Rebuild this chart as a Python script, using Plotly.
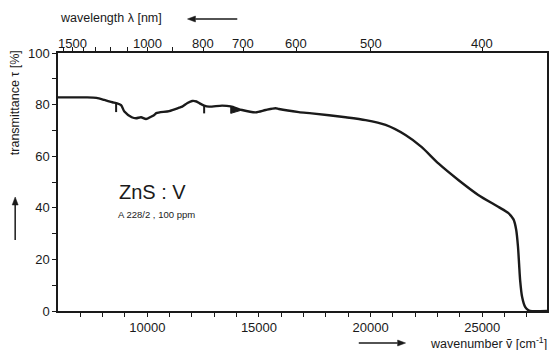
import math
import plotly.graph_objects as go

# ---- data ----
wavenumber = [6000, 6071, 7300, 7723, 8080, 8437, 8603, 8826, 8973, 9304, 9496, 9719, 9942,
              10165, 10313, 10402, 10982, 11429, 11562, 11800, 12009, 12200, 12321, 12545, 12768,
              13348, 13737, 14241, 14853, 15299, 15746, 15893, 16786, 17366, 18884, 19777, 20670,
              21562, 22277, 23036, 23929, 24821, 25714, 26161, 26400, 26520, 26600, 26652, 26696,
              26786, 26920, 27050, 27143, 27900]
transmittance = [82.8, 82.8, 82.8, 82.6, 81.8, 80.9, 80.6, 79.8, 77.3, 75.1, 74.7, 75.1, 74.4,
                 75.3, 76.0, 76.7, 77.5, 78.8, 79.2, 80.6, 81.4, 81.2, 80.6, 79.6, 79.2,
                 79.6, 79.3, 77.9, 77.0, 77.9, 78.6, 78.3, 77.1, 76.6, 75.1, 74.0, 72.1,
                 68.2, 63.6, 57.2, 50.8, 45.0, 40.4, 38.0, 35.5, 31.5, 25.0, 18.0, 12.0,
                 5.4, 1.6, 0.4, 0.0, 0.0]
# calibration marks (vertical ticks) on the curve
spike_x = [8603, 12545]
spike_top = [80.6, 79.6]
spike_bottom = [77.1, 76.6]
# small wedge marker on the curve
wedge_x = [13737, 13737, 14241]
wedge_y = [79.3, 76.6, 77.9]

x_range = [6000, 27900]
y_range = [0, 100]
bottom_major = [10000, 15000, 20000, 25000]
bottom_labels = ["10000", "15000", "20000", "25000"]
bottom_minor = [v for v in range(7000, 28000, 1000) if v not in bottom_major]
y_major = [0, 20, 40, 60, 80, 100]
y_labels = ["0", "20", "40", "60", "80", "100"]
y_minor = [10, 30, 50, 70, 90]
wavelength_ticks = [1600, 1500, 1400, 1300, 1200, 1100, 1000, 900, 800, 700, 600, 500, 400]
wavelength_labelled = [1500, 1000, 800, 700, 600, 500, 400]

FONT = "Liberation Sans, Arial, sans-serif"
INK = "#1a1a1a"
W, H = 552, 350
ML, MR, MT, MB = 58, 3, 53, 39


def px(xp):
    return (xp - ML) / (W - ML - MR)


def py(yp):
    return (H - MB - yp) / (H - MT - MB)


fig = go.Figure()
fig.add_trace(go.Scatter(x=wavenumber, y=transmittance, mode="lines",
                         line=dict(color=INK, width=2.4, shape="spline", smoothing=0.7),
                         showlegend=False, hoverinfo="skip"))
sx, sy = [], []
for xv, t, b in zip(spike_x, spike_top, spike_bottom):
    sx += [xv, xv, None]
    sy += [t, b, None]
fig.add_trace(go.Scatter(x=sx, y=sy, mode="lines", line=dict(color=INK, width=2),
                         showlegend=False, hoverinfo="skip"))
fig.add_trace(go.Scatter(x=wedge_x, y=wedge_y, mode="lines", fill="toself", fillcolor=INK,
                         line=dict(color=INK, width=1), showlegend=False, hoverinfo="skip"))
# carrier trace for the top wavelength axis
fig.add_trace(go.Scatter(x=x_range, y=[None, None], xaxis="x2", mode="lines",
                         showlegend=False, hoverinfo="skip"))

top_vals = [1e7 / lam for lam in wavelength_ticks]

axis_common = dict(showline=True, linecolor=INK, linewidth=1.5, ticks="outside", ticklen=4,
                   tickwidth=1.2, tickcolor=INK, showgrid=False, zeroline=False,
                   tickfont=dict(family=FONT, size=13, color=INK))
minor_common = dict(ticks="outside", ticklen=4, tickwidth=1.2, tickcolor=INK, showgrid=False)

fig.update_layout(
    width=W, height=H,
    margin=dict(l=ML, r=MR, t=MT, b=MB),
    paper_bgcolor="white", plot_bgcolor="white",
    xaxis=dict(range=x_range, tickmode="array", tickvals=bottom_major, ticktext=bottom_labels,
               minor=dict(tickmode="array", tickvals=bottom_minor, **minor_common),
               **axis_common),
    xaxis2=dict(range=x_range, overlaying="x", side="top", tickmode="array",
                tickvals=top_vals, showticklabels=False, **axis_common),
    yaxis=dict(range=y_range, tickmode="array", tickvals=y_major, ticktext=y_labels,
               minor=dict(tickmode="array", tickvals=y_minor, **minor_common),
               mirror=True, **axis_common),
)

# top wavelength labels, placed at their wavenumber positions
for lam in wavelength_labelled:
    fig.add_annotation(xref="x", yref="paper", x=1e7 / lam, y=py(44), xanchor="center",
                       yanchor="middle", text=str(lam), showarrow=False,
                       font=dict(family=FONT, size=13, color=INK))

ann_font = dict(family=FONT, size=12.5, color=INK)
# axis titles
fig.add_annotation(xref="paper", yref="paper", x=0.0, y=py(18), xanchor="left", yanchor="middle",
                   text="wavelength λ [nm]", showarrow=False, font=ann_font)
fig.add_annotation(xref="paper", yref="paper", x=px(551), y=py(343), xanchor="right", yanchor="middle",
                   text="wavenumber ṽ [cm<sup>-1</sup>]", showarrow=False, font=ann_font)
fig.add_annotation(xref="paper", yref="paper", x=px(15), y=py(103), xanchor="center", yanchor="middle",
                   text="transmittance τ [%]", textangle=-90, showarrow=False, font=ann_font)


# arrows drawn as shapes (shaft + filled head)
def arrow(x0, y0, x1, y1):
    d = math.hypot(x1 - x0, y1 - y0)
    ux, uy = (x1 - x0) / d, (y1 - y0) / d
    hl, hw = 8, 3
    bx, by = x1 - ux * hl, y1 - uy * hl
    fig.add_shape(type="line", xref="paper", yref="paper", x0=px(x0), y0=py(y0),
                  x1=px(bx), y1=py(by), line=dict(color=INK, width=1.5))
    p1 = (bx - uy * hw, by + ux * hw)
    p2 = (bx + uy * hw, by - ux * hw)
    path = "M {} {} L {} {} L {} {} Z".format(px(x1), py(y1), px(p1[0]), py(p1[1]),
                                             px(p2[0]), py(p2[1]))
    fig.add_shape(type="path", xref="paper", yref="paper", path=path,
                  fillcolor=INK, line=dict(color=INK, width=0.5))


arrow(238, 19, 188, 19)
arrow(360, 343, 407, 343)
arrow(15, 240, 15, 197)

# sample labels
fig.add_annotation(xref="paper", yref="paper", x=px(117), y=py(192), xanchor="left", yanchor="middle",
                   text="ZnS : V", showarrow=False, font=dict(family=FONT, size=20, color=INK))
fig.add_annotation(xref="paper", yref="paper", x=px(116), y=py(214), xanchor="left", yanchor="middle",
                   text="A 228/2 , 100 ppm", showarrow=False, font=dict(family=FONT, size=9.5, color=INK))

fig.write_html("out.html")
